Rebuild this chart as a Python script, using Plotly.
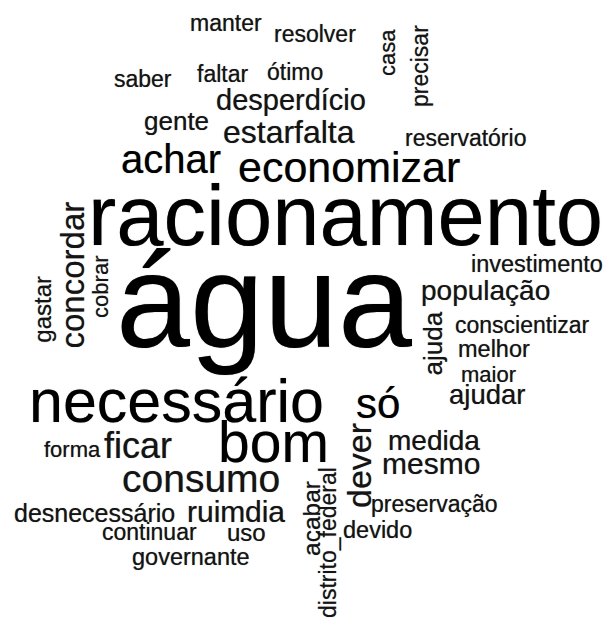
import plotly.graph_objects as go

# ---- data: words and their (estimated) frequencies ----
words = ["manter", "resolver", "casa", "precisar", "saber", "faltar", "ótimo",
         "desperdício", "gente", "estar", "falta", "reservatório", "achar",
         "economizar", "racionamento", "concordar", "gastar", "cobrar", "água",
         "investimento", "população", "ajuda", "conscientizar", "melhor", "maior",
         "ajudar", "necessário", "só", "bom", "forma", "ficar", "dever", "medida",
         "mesmo", "consumo", "preservação", "desnecessário", "ruim", "dia",
         "acabar", "distrito_federal", "continuar", "uso", "devido", "governante"]
frequency = [3, 3, 2, 3, 3, 3, 3,
             9, 6, 12, 12, 3, 20,
             23, 65, 13, 4, 2, 113,
             3.5, 8, 6, 3, 3.5, 2,
             7.5, 41, 22, 37, 2, 16, 14, 8,
             10, 19, 3, 5, 10, 10,
             4.5, 3, 3, 4, 3.5, 3.5]

# ---- word-cloud placement (layout, not data) ----
placement = [
    (225.5, 23, 0), (314.5, 34, 0), (387, 53, -90), (420, 66, -90), (143, 79, 0),
    (222.5, 74, 0), (294.5, 72, 0), (290.5, 100, 0), (176, 121, 0), (258.5, 132, 0),
    (324.5, 132, 0), (465.5, 138, 0), (171, 159, 0), (348.5, 167, 0), (345.5, 215, 0),
    (71.5, 275, -90), (41.7, 309, -90), (100.4, 286.5, -90), (264, 301, 0),
    (536.5, 264, 0), (485, 290, 0), (432, 343.5, -90), (522.5, 325, 0), (493.5, 349, 0),
    (488, 374, 0), (486.5, 394.5, 0), (176.5, 401, 0), (377.5, 403, 0), (273, 442, 0),
    (72.5, 449, 0), (138, 445.5, 0), (359, 466, -90), (434, 440, 0), (431, 463.6, 0),
    (201, 478.5, 0), (434.5, 504, 0), (94.5, 513, 0), (216, 511.5, 0), (265, 511.5, 0),
    (311.5, 518.5, -90), (328, 543, -90), (149.5, 532, 0), (246, 532, 0), (377, 530, 0),
    (191, 557, 0),
]

BASE_SIZE = 20   # font size = BASE_SIZE + frequency
FONT = "Liberation Sans, Arial, sans-serif"

fig = go.Figure()
# invisible trace so the axes exist
fig.add_trace(go.Scatter(x=[0, 608], y=[0, 620], mode="markers",
                         marker=dict(opacity=0), hoverinfo="skip", showlegend=False))

annotations = []
for w, f, (px, py, rot) in zip(words, frequency, placement):
    size = BASE_SIZE + f
    color = "#000000" if size >= 40 else "#141414"
    annotations.append(dict(
        x=px, y=py, xref="x", yref="y", text=w, showarrow=False,
        textangle=rot, xanchor="center", yanchor="middle",
        font=dict(family=FONT, size=size, color=color,
                  shadow="0px 0px 0.8px rgba(0,0,0,0.55)"),
        borderpad=0,
    ))

fig.update_layout(
    width=608, height=620,
    margin=dict(l=0, r=0, t=0, b=0),
    paper_bgcolor="white", plot_bgcolor="white",
    xaxis=dict(range=[0, 608], visible=False, fixedrange=True),
    yaxis=dict(range=[620, 0], visible=False, fixedrange=True),
    annotations=annotations,
    showlegend=False,
)

fig.write_html(
    "out.html",
    config={"displayModeBar": False},
    post_script="document.body.style.margin='0';document.body.style.overflow='hidden';",
)
